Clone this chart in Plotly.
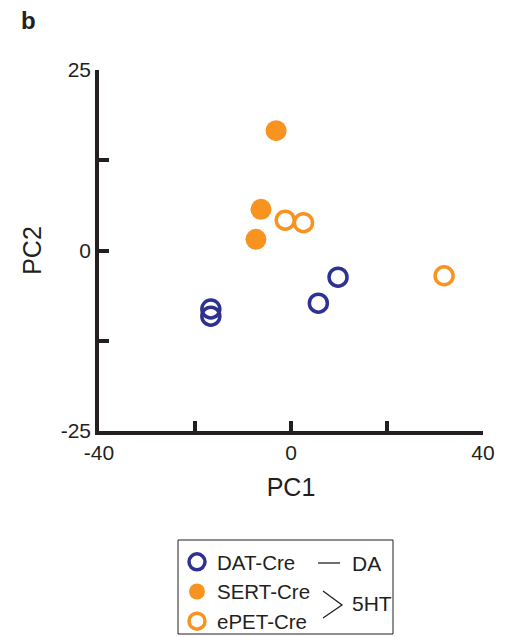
import plotly.graph_objects as go

# ---- data ----
dat_pc1 = [9.8, 5.7, -16.7, -16.7]
dat_pc2 = [-3.7, -7.3, -8.1, -9.1]
sert_pc1 = [-3.1, -6.25, -7.3]
sert_pc2 = [16.6, 5.7, 1.55]
epet_pc1 = [-1.2, 2.6, 31.9]
epet_pc2 = [4.2, 3.85, -3.5]

x_tickvals = [-40, -20, 0, 20, 40]
x_ticktext = ["-40", "", "0", "", "40"]
y_tickvals = [-25, -12.5, 0, 12.5, 25]
y_ticktext = ["-25", "", "0", "", "25"]

NAVY = "#2e3192"
ORANGE = "#f7931e"
DARK = "#231f20"
FONT = "Liberation Sans, Arial, sans-serif"

W, H = 517, 637
L, R, T, B = 99, 34, 70, 206
PW, PH = W - L - R, H - T - B


def px(x):
    return (x - L) / PW


def py(y):
    return (H - B - y) / PH


fig = go.Figure()
fig.add_trace(go.Scatter(
    x=dat_pc1, y=dat_pc2, mode="markers", name="DAT-Cre",
    marker=dict(symbol="circle-open", size=18, color=NAVY, line=dict(width=3.5, color=NAVY)),
))
fig.add_trace(go.Scatter(
    x=sert_pc1, y=sert_pc2, mode="markers", name="SERT-Cre",
    marker=dict(symbol="circle", size=21, color=ORANGE, line=dict(width=0)),
))
fig.add_trace(go.Scatter(
    x=epet_pc1, y=epet_pc2, mode="markers", name="ePET-Cre",
    marker=dict(symbol="circle-open", size=18, color=ORANGE, line=dict(width=3.5, color=ORANGE)),
))

axis_common = dict(
    showline=True, linecolor=DARK, linewidth=3.5,
    ticks="inside", ticklen=10, tickwidth=3.5, tickcolor=DARK,
    showgrid=False, zeroline=False, mirror=False,
    tickfont=dict(family=FONT, size=21, color=DARK),
    fixedrange=True,
)

fig.update_layout(
    width=W, height=H,
    margin=dict(l=L, r=R, t=T, b=B, autoexpand=False),
    paper_bgcolor="white", plot_bgcolor="white",
    font=dict(family=FONT, color=DARK),
    xaxis=dict(range=[-40, 40], tickvals=x_tickvals, ticktext=x_ticktext,
               title=dict(text="PC1", font=dict(family=FONT, size=25, color=DARK), standoff=17),
               **axis_common),
    yaxis=dict(range=[-25, 25], tickvals=y_tickvals, ticktext=y_ticktext,
               title=dict(text="PC2", font=dict(family=FONT, size=25, color=DARK), standoff=13),
               **axis_common),
    showlegend=True,
    legend=dict(
        x=px(177), y=py(542), xanchor="left", yanchor="top",
        font=dict(family=FONT, size=20.5, color=DARK),
        bgcolor="rgba(0,0,0,0)", borderwidth=0,
        itemsizing="trace", tracegroupgap=0,
    ),
)

# panel label
fig.add_annotation(text="<b>b</b>", xref="paper", yref="paper", x=px(19), y=py(21),
                   xanchor="left", yanchor="middle", showarrow=False,
                   font=dict(family=FONT, size=24, color=DARK))

# legend box
fig.add_shape(type="rect", xref="paper", yref="paper",
              x0=px(178), x1=px(393), y0=py(540), y1=py(634),
              line=dict(color=DARK, width=1))
# "— DA"
fig.add_shape(type="line", xref="paper", yref="paper",
              x0=px(318), x1=px(340), y0=py(563), y1=py(563),
              line=dict(color=DARK, width=1.3))
fig.add_annotation(text="DA", xref="paper", yref="paper", x=px(350), y=py(563),
                   xanchor="left", yanchor="middle", showarrow=False,
                   font=dict(family=FONT, size=21, color=DARK))
# ">" bracket
fig.add_shape(type="path", xref="paper", yref="paper",
              path=f"M {px(323)} {py(591)} L {px(342)} {py(605)} L {px(323)} {py(618)}",
              line=dict(color=DARK, width=1.3))
fig.add_annotation(text="5HT", xref="paper", yref="paper", x=px(350), y=py(603),
                   xanchor="left", yanchor="middle", showarrow=False,
                   font=dict(family=FONT, size=21, color=DARK))

fig.write_html("out.html", config={"displayModeBar": False})

# remove default page margin so the figure sits at the window's top-left corner
with open("out.html", "r", encoding="utf-8") as f:
    html = f.read()
html = html.replace("<body>", '<body style="margin:0;padding:0;overflow:hidden">', 1)
html = html.replace("<head>", '<head><style>html,body{margin:0;padding:0;}</style>', 1)
with open("out.html", "w", encoding="utf-8") as f:
    f.write(html)
